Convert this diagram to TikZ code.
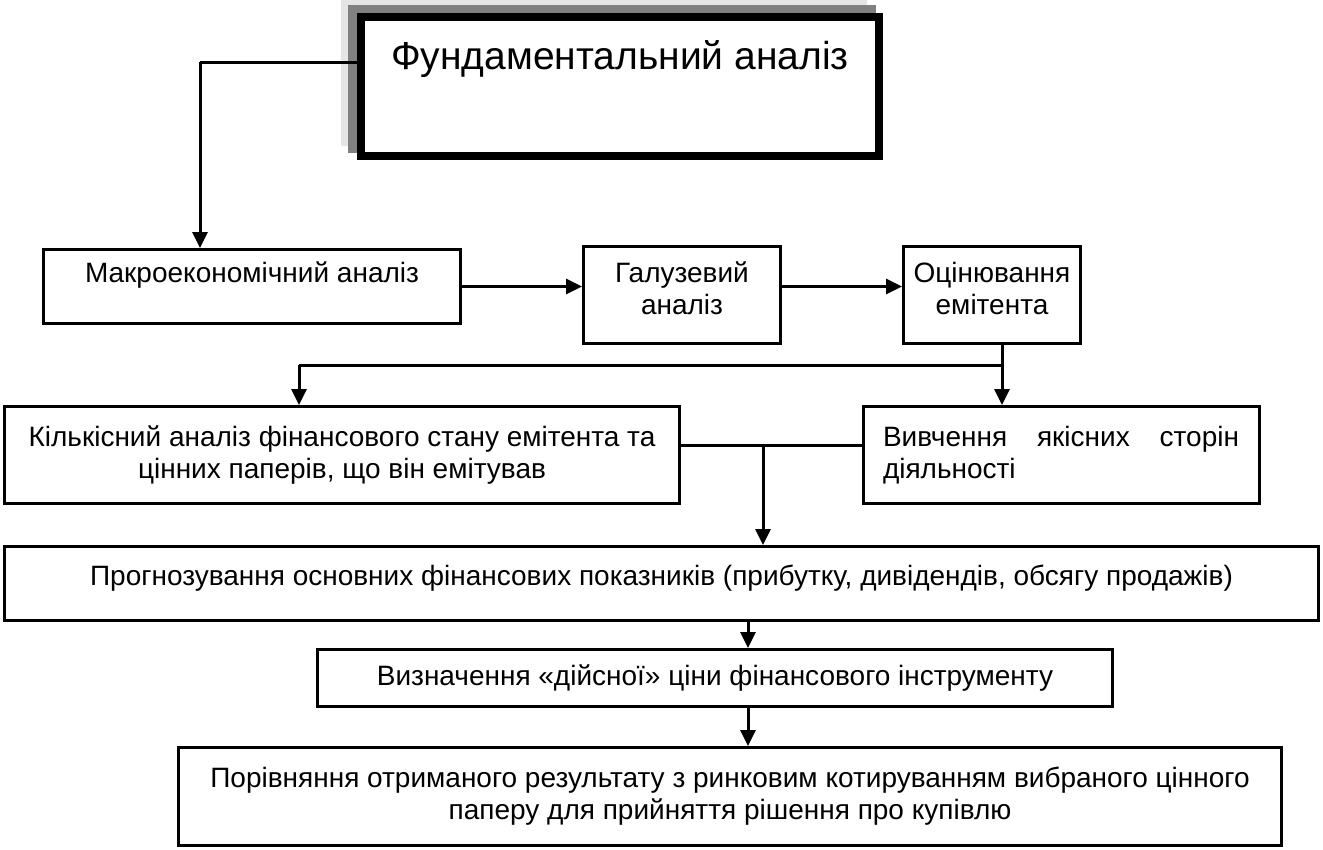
\documentclass[tikz,border=0pt]{standalone}
\usepackage{fontspec}
\setmainfont{Liberation Sans}
\usepackage{tikz}
\usetikzlibrary{arrows}
\usetikzlibrary{arrows.meta}
\begin{document}
\begin{tikzpicture}[x=1pt,y=-1pt,
        block/.style={draw, line width=3pt, fill=white, inner sep=0pt,
          font=\fontsize{28}{32}\selectfont, align=center},
        link/.style={line width=3pt},
        arr/.style={line width=3pt, -{Triangle[length=16pt,width=15pt]}}]
         \useasboundingbox (0,0) rectangle (1323,849);
         % shadow of the title box
         \fill [black!10] (341,0) rectangle (867,146);
         \fill [black!50] (348,5) rectangle (876,153);
         \node [draw, line width=8pt, fill=white, inner sep=0pt,
           minimum width=518pt, minimum height=139pt,
           text height=29pt, text depth=64pt,
           font=\fontsize{39}{44}\selectfont] (fund) at (620,86.5) {Фундаментальний аналіз};
         % first row
         \node [block, minimum width=417pt, minimum height=74pt,
           text height=21pt, text depth=30pt] (macro) at (252,286.5) {Макроекономічний аналіз};
         \node [block, minimum width=197pt, minimum height=97pt,
           text height=53pt, text depth=15pt] (galuz) at (682,295) {Галузевий\\аналіз};
         \node [block, minimum width=177pt, minimum height=97pt,
           text height=53pt, text depth=15pt] (otsin) at (992,295) {Оцінювання\\емітента};
         % second row
         \node [block, minimum width=675pt, minimum height=97pt] (kilk) at (342,455)
           {Кількісний аналіз фінансового стану емітента та\\цінних паперів, що він емітував};
         \node [block, minimum width=396pt, minimum height=97pt, text width=356pt, align=left] (vyvch) at (1061,455)
           {Вивчення\hfill якісних\hfill сторін\\діяльності};
         % lower boxes
         \node [block, minimum width=1314pt, minimum height=74pt,
           text height=21pt, text depth=18pt] (prog) at (661.5,583.5)
           {Прогнозування основних фінансових показників (прибутку, дивідендів, обсягу продажів)};
         \node [block, minimum width=795pt, minimum height=57pt] (vyzn) at (715,678)
           {Визначення «дійсної» ціни фінансового інструменту};
         \node [block, minimum width=1103pt, minimum height=98pt] (porivn) at (730,796.5)
           {Порівняння отриманого результату з ринковим котируванням вибраного цінного\\паперу для прийняття рішення про купівлю};
         % connectors
         \coordinate (c1) at (200,62);
         \coordinate (fork) at (1002,365);
         \coordinate (kfork) at (299,365);
         \coordinate (mfork) at (763,445);
         \coordinate (bx) at (748,0);
         \draw [link] (fund.west |- c1) -- (c1);
         \draw [arr] (c1) -- (c1 |- macro.north);
         \draw [arr] (macro.east) -- (macro.east -| galuz.west);
         \draw [arr] (galuz.east |- macro.east) -- (otsin.west |- macro.east);
         \draw [link] (fork |- otsin.south) -- (fork);
         \draw [arr] (fork) -- (fork |- vyvch.north);
         \draw [link] (fork) -- (kfork);
         \draw [arr] (kfork) -- (kfork |- kilk.north);
         \draw [link] (kilk.east |- mfork) -- (vyvch.west |- mfork);
         \draw [arr] (mfork) -- (mfork |- prog.north);
         \draw [arr] (prog.south -| bx) -- (vyzn.north -| bx);
         \draw [arr] (vyzn.south -| bx) -- (porivn.north -| bx);
        \end{tikzpicture}
\end{document}
